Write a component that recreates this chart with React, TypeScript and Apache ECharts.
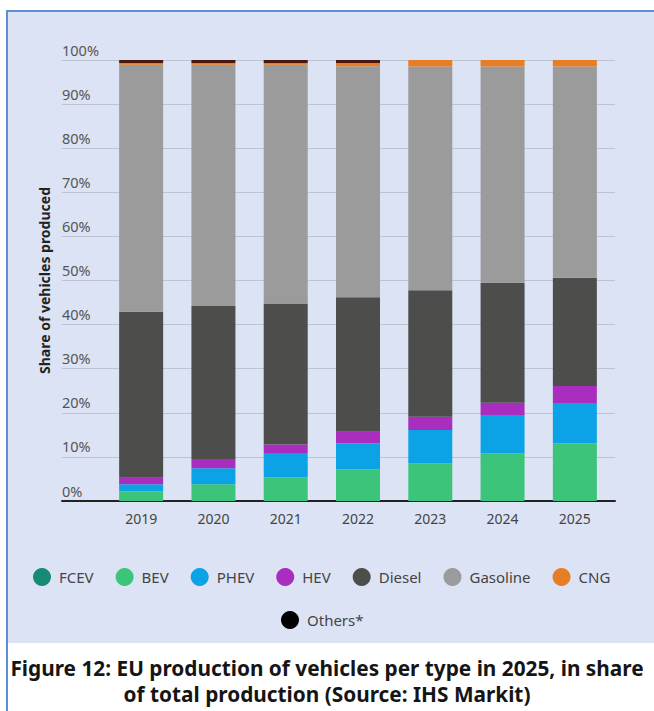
import React, { useEffect, useRef } from "react";
import * as echarts from "echarts";

const years = ["2019", "2020", "2021", "2022", "2023", "2024", "2025"];
const fcev = [0, 0, 0, 0, 0, 0, 0];
const bev = [2.2, 3.8, 5.4, 7.2, 8.5, 10.8, 13.1];
const phev = [1.6, 3.6, 5.3, 5.9, 7.6, 8.7, 9.1];
const hev = [1.5, 2.1, 2.1, 2.6, 3.0, 2.8, 3.9];
const diesel = [37.6, 34.7, 32.0, 30.5, 28.7, 27.2, 24.5];
const gasoline = [56.0, 54.7, 54.1, 52.4, 50.7, 49.0, 47.9];
const cng = [0.4, 0.4, 0.4, 0.7, 1.5, 1.5, 1.5];
const others = [0.7, 0.7, 0.7, 0.7, 0, 0, 0];
const yTicks = [0, 10, 20, 30, 40, 50, 60, 70, 80, 90, 100];

const seriesDefs = [
  { name: "FCEV", data: fcev, color: "#178a74" },
  { name: "BEV", data: bev, color: "#3cc47b" },
  { name: "PHEV", data: phev, color: "#0ba3e6" },
  { name: "HEV", data: hev, color: "#a92dbf" },
  { name: "Diesel", data: diesel, color: "#4d4d4b" },
  { name: "Gasoline", data: gasoline, color: "#9b9b9b" },
  { name: "CNG", data: cng, color: "#e57e25" },
  { name: "Others*", data: others, color: "#4a170c" },
];

const FONT = "Noto Sans";

export default function App() {
  const ref = useRef<HTMLDivElement>(null);
  useEffect(() => {
    if (!ref.current) return;
    const chart = echarts.init(ref.current, undefined, { renderer: "svg" });
    const legendText = {
      color: "#444",
      fontSize: 15,
      fontFamily: FONT,
      padding: [0, 0, 0, 3],
    };
    chart.setOption({
      animation: false,
      backgroundColor: "#ffffff",
      graphic: [
        {
          type: "rect",
          z: -10,
          silent: true,
          shape: { x: 7, y: 11, width: 700, height: 632 },
          style: { fill: "#dce3f4" },
        },
        {
          type: "rect",
          z: -9,
          silent: true,
          shape: { x: 7, y: 11, width: 700, height: 760 },
          style: { fill: "none", stroke: "#5f8ed2", lineWidth: 2 },
        },
        {
          type: "text",
          x: 327,
          y: 668,
          style: {
            text: "Figure 12: EU production of vehicles per type in 2025, in share",
            font: `bold 20.8px "${FONT}"`,
            fill: "#151515",
            align: "center",
            verticalAlign: "middle",
          },
        },
        {
          type: "text",
          x: 327,
          y: 694,
          style: {
            text: "of total production (Source: IHS Markit)",
            font: `bold 20.8px "${FONT}"`,
            fill: "#151515",
            align: "center",
            verticalAlign: "middle",
          },
        },
      ],
      legend: [
        {
          data: seriesDefs.slice(0, 7).map((s) => s.name),
          left: 28,
          top: 563,
          orient: "horizontal",
          icon: "circle",
          itemWidth: 18,
          itemHeight: 18,
          itemGap: 22,
          textStyle: legendText,
          selectedMode: false,
        },
        {
          data: [{ name: "Others*", itemStyle: { color: "#000000" } }],
          left: 276,
          top: 606,
          icon: "circle",
          itemWidth: 18,
          itemHeight: 18,
          textStyle: legendText,
          selectedMode: false,
        },
      ],
      grid: [
        { left: 62, right: 39, top: 60, bottom: 210 },
        { left: 105, right: 43, top: 60, bottom: 210 },
      ],
      xAxis: [
        {
          gridIndex: 0,
          type: "value",
          min: 0,
          max: 1,
          axisLabel: { show: false },
          axisTick: { show: false },
          splitLine: { show: false },
          axisLine: { show: true, lineStyle: { color: "#222", width: 2 } },
        },
        {
          gridIndex: 1,
          type: "category",
          data: years,
          axisLine: { show: false },
          axisTick: { show: false },
          axisLabel: {
            color: "#444",
            fontSize: 14,
            fontFamily: FONT,
            margin: 10,
          },
        },
      ],
      yAxis: [
        {
          gridIndex: 0,
          type: "value",
          min: yTicks[0],
          max: yTicks[yTicks.length - 1],
          interval: 10,
          name: "Share of vehicles produced",
          nameLocation: "middle",
          nameGap: 10,
          nameTextStyle: {
            color: "#222",
            fontSize: 14,
            fontWeight: "bold",
            fontFamily: FONT,
          },
          axisLine: { show: false },
          axisTick: { show: false },
          splitLine: { show: true, lineStyle: { color: "#bcc3d1", width: 1 } },
          axisLabel: {
            align: "left",
            margin: 0,
            verticalAlign: "bottom",
            padding: [0, 0, 3, 0],
            color: "#555",
            fontSize: 14.5,
            fontFamily: FONT,
            formatter: (v: number) => `${v}%`,
          },
        },
        {
          gridIndex: 1,
          type: "value",
          min: 0,
          max: 100,
          show: false,
          splitLine: { show: false },
        },
      ],
      series: seriesDefs.map((s) => ({
        name: s.name,
        type: "bar",
        stack: "total",
        xAxisIndex: 1,
        yAxisIndex: 1,
        barWidth: 44,
        data: s.data,
        itemStyle: { color: s.color },
      })),
    });
    return () => chart.dispose();
  }, []);
  return (
    <div
      ref={ref}
      style={{ position: "fixed", left: 0, top: 0, width: 654, height: 711 }}
    />
  );
}
